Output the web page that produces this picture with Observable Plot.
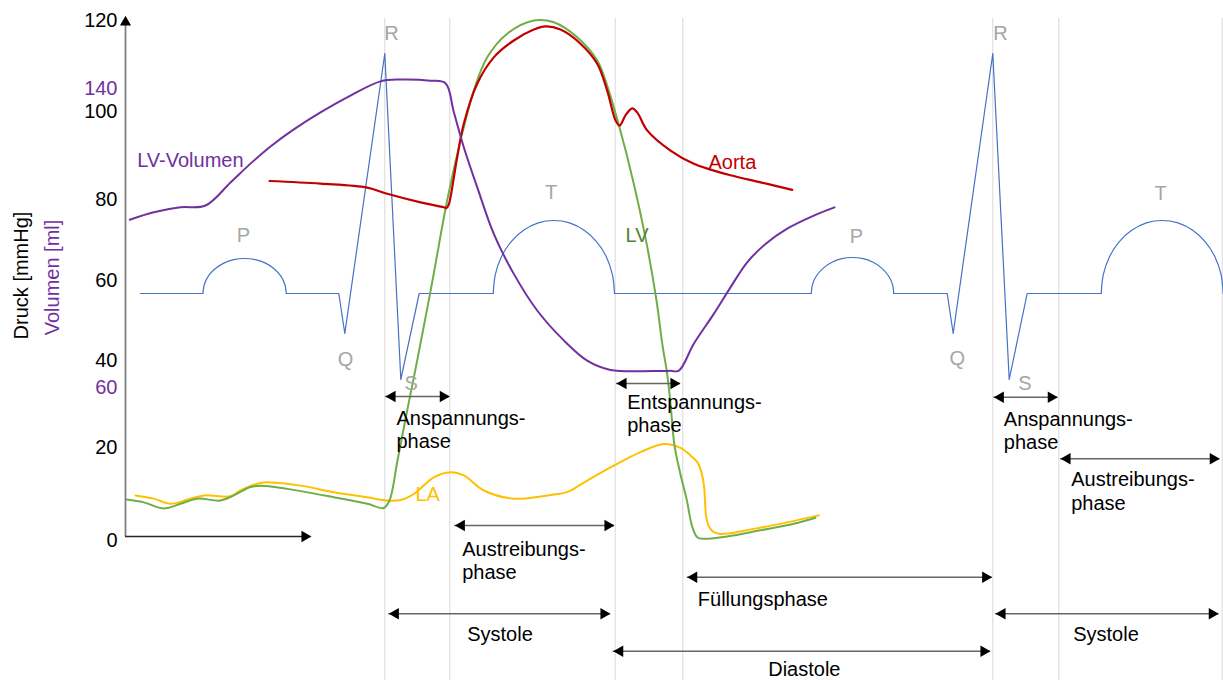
<!DOCTYPE html>
<html><head><meta charset="utf-8">
<script src="https://cdn.jsdelivr.net/npm/d3@7"></script>
<script src="https://cdn.jsdelivr.net/npm/@observablehq/plot@0.6"></script>
<style>
html,body{margin:0;padding:0;background:#fff;}
#chart{width:1223px;height:680px;overflow:hidden;}
</style></head><body><div id="chart"></div>
<script>
// ===== DATA (time t in arbitrary units from the y axis; pressure mmHg; volume ml; ECG mV) =====
const pressureTicks = [0, 20, 40, 60, 80, 100, 120];
const volumeTicks = [60, 140];

// Aortic pressure [t, mmHg]
const aorta = [[144,84.2],[195,83.6],[241.7,82.7],[261.7,81.3],[295,79.3],[318.3,78.1],[321,77.9],[323.3,78.8],[325,80.5],
  [331.7,89.6],[338.3,97.2],[351.7,106.1],[368.3,111.9],[388.3,115.6],[408.3,118.0],[420,118.7],[435,118.0],[455,114.9],
  [471.7,110.5],[481.7,104.6],[490,98.0],[494,96.8],[500,99.1],[506.7,100.7],[511.7,99.8],[521.7,95.7],[545,91.1],
  [568.3,88.1],[585,86.8],[605,85.5],[635,83.9],[666.7,82.2]];

// Left-ventricular pressure [t, mmHg]
const lvPressure = [[1,8.8],[18.3,8.2],[38.3,6.9],[55,7.9],[71.7,9.0],[95,8.6],[108.3,9.7],[125,11.5],[135,11.8],[161.7,11.1],
  [208.3,9.3],[241.7,7.9],[258.3,7.0],[264,8.6],[272,17.2],[281.7,28.5],[291.7,40],[307,60],[321.7,79.8],[335,93.4],
  [348.3,104.6],[361.7,111.9],[381.7,117.1],[408.3,120],[428.3,119.6],[451.7,116.3],[471.7,111.2],[480,106.8],[493.5,96.8],
  [508.3,83.6],[520.5,69.9],[531,55],[537,43.75],[541.5,37.2],[545,30.1],[549,20.45],[555,14.2],[561,9.0],[567,2.8],
  [572,0.65],[578,0.37],[601.7,0.86],[635,2.2],[668.3,3.6],[690,4.9]];

// Left-atrial pressure [t, mmHg]
const laPressure = [[10,9.7],[28.3,9.0],[45,7.9],[61.7,8.75],[78.3,9.7],[105,9.5],[115,10.75],[131.7,12.2],[145,12.5],[175,11.8],
  [208.3,10.4],[241.7,9.3],[261.7,8.6],[275,8.7],[288.3,10.0],[308.3,13.6],[325,14.7],[338.3,14.0],[358.3,10.75],[388.3,9.0],
  [428.3,9.9],[441.7,10.4],[461.7,12.9],[488.3,16.1],[515,19.0],[538.3,20.8],[555,19.9],[565,18.3],[572,16.8],[576,14.6],
  [578.5,11.8],[579.5,8.6],[580.5,5.4],[583,3.2],[587,2.0],[595,1.4],[628.3,2.5],[661.7,3.9],[693.3,5.4]];

// Left-ventricular volume [t, ml]
const lvVolume = [[4.3,104.9],[28.3,106.9],[55,108.2],[80,108.7],[105,114.85],[125,119.9],[145,124.5],[168,129.0],[195,133.6],
  [225,138.1],[255,141.9],[275,142.4],[305,142.1],[320,141.4],[328.3,133.7],[338.3,124.3],[351.7,113.6],[368.3,101.1],[388.3,90.4],
  [411.7,80.6],[438.3,72.6],[461.7,67.2],[485,64.7],[528.3,64.4],[545,64.45],[553.3,64.5],[568.3,71.7],[588.3,79.7],[605,86.8],
  [621.7,93.5],[640,98.4],[661.7,102.5],[688.3,106],[709,108.2]];

// ECG straight pieces [segment, t, mV]
const ecgStraight = [
  ["a",15,0],["a",77.4,0],
  ["b",160.8,0],["b",213.3,0],["b",219.3,-0.2],["b",259.3,1.2],["b",275.3,-0.43],["b",293.7,0],["b",367.7,0],
  ["c",489,0],["c",685.7,0],
  ["d",768.3,0],["d",821.7,0],["d",827.7,-0.2],["d",867.3,1.2],["d",883.7,-0.43],["d",901.7,0],["d",975.7,0]];
// ECG rounded waves (P and T): times and mV
const ecgP1T = [77.4,78.8,83.0,89.6,98.3,108.3,119.1,129.9,140.0,148.6,155.2,159.4,160.8];
const ecgP1V = [0,.045,.088,.124,.152,.169,.175,.169,.152,.124,.088,.045,0];
const ecgT1T = [367.7,369.8,375.8,385.5,398.0,412.7,428.4,444.1,458.7,471.2,480.9,486.9,489.0];
const ecgT1V = [0,.094,.183,.258,.316,.353,.365,.353,.316,.258,.183,.094,0];
const ecgP2T = [685.7,687.1,691.2,697.8,706.4,716.3,727.0,737.7,747.7,756.2,762.8,766.9,768.3];
const ecgP2V = [0,.047,.09,.127,.156,.174,.18,.174,.156,.127,.09,.047,0];
const ecgT2T = [975.7,977.8,983.9,993.6,1006.2,1020.9,1036.7,1052.5,1067.2,1079.8,1089.5,1095.6,1097.7];
const ecgT2V = [0,.094,.183,.258,.316,.353,.365,.353,.316,.258,.183,.094,0];

// Event times (grey guide lines)
const eventTimes = [259.3, 324.3, 489.7, 557.3, 867.3, 933.3, 1096.7];

// Phases
const phaseNames = ["Anspannungs-\nphase","Austreibungs-\nphase","Entspannungs-\nphase","Füllungsphase","Systole","Diastole",
  "Anspannungs-\nphase","Austreibungs-\nphase","Systole"];
const phaseStart = [260, 329.3, 491, 561.7, 263.3, 487.7, 868.3, 935, 870];
const phaseEnd   = [324.3, 489, 555, 866.7, 485, 865, 932.3, 1094.3, 1093.3];

// Texts
const ecgLabelNames = ["P","Q","R","S","T","P","Q","R","S","T"];
const curveLabelNames = ["LV-Volumen","Aorta","LV","LA"];

// ===== LAYOUT (pixel positions / styles) =====
const W = 1223, H = 680;
const tickPx = [540, 447, 360, 280, 199, 111, 20];   // where the chart's (unevenly spaced) pressure labels sit
const xDomain = [-125, 1098];
const xPix = d3.scaleLinear(xDomain, [0, W]);
const yPix = d3.scaleLinear(pressureTicks, tickPx);      // piecewise pressure -> pixel
const yLin = d3.scaleLinear([540, 20], [0, 120]);        // pixel -> linearised pressure
const yTransform = p => yLin(yPix(p));
const tx = px => xPix.invert(px);
const py = px => yPix.invert(px);
const volPix = d3.scaleLinear([60, 140], [387, 88]);
const ecgPix = d3.scaleLinear([0, 1], [293, 93]);
const vy = v => py(volPix(v));
const ey = mv => py(ecgPix(mv));

const phaseRowPx = [396, 525, 383, 576.7, 613.3, 650.7, 396.7, 458.3, 613.3];
const phaseLabelDx = [11, 7.4, 10.7, 10.6, 78.4, 155, 10, 10.7, 77.7];
const phaseLabelPy = [428.3, 559.8, 412.3, 598.3, 633.3, 668.5, 429.2, 490, 633];
const ecgLabelPx = [[243,235],[345,359.3],[391,33.3],[410.7,382.7],[550.7,191.7],[856,235.7],[956.7,358.3],[1000,33.3],[1024.3,382.7],[1160,193.3]];
const curveLabelPx = [[136.7,160],[708,161.7],[625,235],[415,494.3]];

const C = {ecg:"#4472C4", vol:"#7030A0", aorta:"#C00000", lv:"#70AD47", lvText:"#548235", la:"#FFC000", grey:"#A6A6A6", guide:"#D9D9D9"};
const curveLabelColors = [C.vol, C.aorta, C.lvText, C.la];
const FONT = "'Liberation Sans', Arial, Helvetica, sans-serif";
const txt = {fontFamily: FONT, fontSize: 20};
const smooth = "catmull-rom";

// ===== BUILD =====
const toPts = arr => arr.map(([t, v]) => ({t, v}));
const ecgBase = ecgStraight.map(([seg, t, mv]) => ({seg, t, mv}));
const ecgWaves = [["P1",ecgP1T,ecgP1V],["T1",ecgT1T,ecgT1V],["P2",ecgP2T,ecgP2V],["T2",ecgT2T,ecgT2V]]
  .flatMap(([w, ts, vs]) => ts.map((t, i) => ({wave: w, t, mv: vs[i]})));
const phases = phaseNames.map((name, i) => ({
  name, start: phaseStart[i], end: phaseEnd[i], row: py(phaseRowPx[i]),
  lx: phaseStart[i] + phaseLabelDx[i], ly: py(phaseLabelPy[i])
}));
const ecgLabels = ecgLabelNames.map((n, i) => ({n, x: tx(ecgLabelPx[i][0]), y: py(ecgLabelPx[i][1])}));
const curveLabels = curveLabelNames.map((n, i) => ({n, x: tx(curveLabelPx[i][0]), y: py(curveLabelPx[i][1]), c: curveLabelColors[i]}));

const head = 6.7;
const chart = Plot.plot({
  width: W, height: H, margin: 0,
  x: {type: "linear", domain: xDomain, range: [0, W], axis: null},
  y: {type: "linear", domain: [0, 120], range: [540, 20], transform: yTransform, axis: null},
  style: {fontFamily: FONT, fontSize: "20px", background: "#fff"},
  marks: [
    Plot.ruleX(eventTimes, {x: d => d, y1: py(680), y2: py(18), stroke: C.guide, strokeWidth: 1}),
    // ECG
    Plot.line(ecgBase, {x: "t", y: d => ey(d.mv), z: "seg", stroke: C.ecg, strokeWidth: 1.2, curve: "linear"}),
    Plot.line(ecgWaves, {x: "t", y: d => ey(d.mv), z: "wave", stroke: C.ecg, strokeWidth: 1.2, curve: "catmull-rom"}),
    // pressures & volume
    Plot.line(toPts(laPressure), {x: "t", y: "v", stroke: C.la, strokeWidth: 2, curve: smooth}),
    Plot.line(toPts(lvPressure), {x: "t", y: "v", stroke: C.lv, strokeWidth: 2, curve: smooth}),
    Plot.line(toPts(aorta), {x: "t", y: "v", stroke: C.aorta, strokeWidth: 2.2, curve: smooth}),
    Plot.line(toPts(lvVolume), {x: "t", y: d => vy(d.v), stroke: C.vol, strokeWidth: 2, curve: smooth}),
    // axes
    Plot.ruleX([0], {x: d => d, y1: py(536), y2: py(24), stroke: "#7F7F7F", strokeWidth: 1.8}),
    Plot.dot([0], {x: 0, y: py(15 + head), symbol: "triangle", r: 4.1, fill: "#000", stroke: "none"}),
    Plot.ruleY([py(536)], {y: d => d, x1: 0, x2: tx(311 - 8), stroke: "#262626", strokeWidth: 1.5}),
    Plot.dot([0], {x: tx(311), y: py(536), dx: -head, rotate: 90, symbol: "triangle", r: 4.3, fill: "#000", stroke: "none"}),
    Plot.text(pressureTicks, {x: 0, y: d => d, text: d => String(d), textAnchor: "end", dx: -8, fill: "#000", ...txt}),
    Plot.text(volumeTicks, {x: 0, y: d => vy(d), text: d => String(d), textAnchor: "end", dx: -8, fill: C.vol, ...txt}),
    Plot.text(["Druck [mmHg]"], {x: tx(21), y: py(275), text: d => d, rotate: -90, fill: "#000", ...txt}),
    Plot.text(["Volumen [ml]"], {x: tx(52), y: py(277), text: d => d, rotate: -90, fill: C.vol, ...txt}),
    // phase arrows
    Plot.ruleY(phases, {y: "row", x1: "start", x2: "end", stroke: "#666666", strokeWidth: 1.5}),
    Plot.dot(phases, {x: "end", y: "row", dx: -head, rotate: 90, symbol: "triangle", r: 4.3, fill: "#000", stroke: "none"}),
    Plot.dot(phases, {x: "start", y: "row", dx: head, rotate: -90, symbol: "triangle", r: 4.3, fill: "#000", stroke: "none"}),
    Plot.text(phases, {x: "lx", y: "ly", text: "name", textAnchor: "start", lineHeight: 1.165, fill: "#000", ...txt}),
    // labels
    Plot.text(ecgLabels, {x: "x", y: "y", text: "n", fill: C.grey, ...txt}),
    Plot.text(curveLabels, {x: "x", y: "y", text: "n", fill: "c", textAnchor: "start", ...txt})
  ]
});
document.getElementById("chart").appendChild(chart);
</script></body></html>
